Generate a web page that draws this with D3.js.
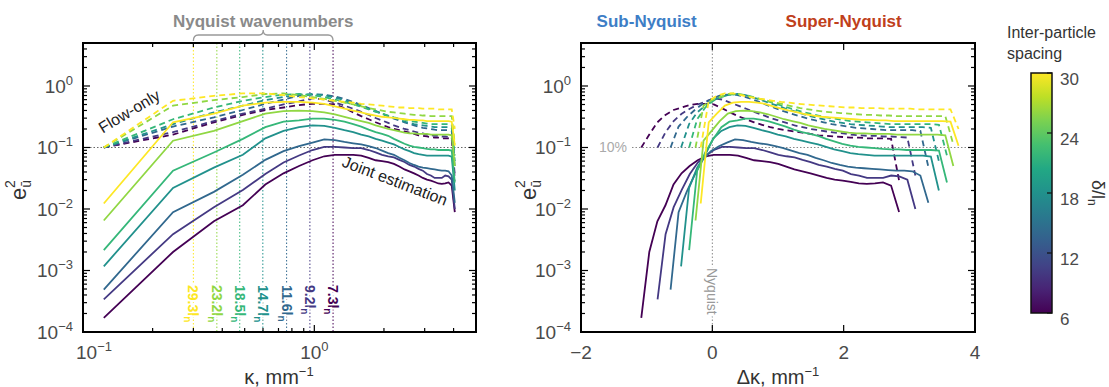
<!DOCTYPE html>
<html>
<head>
<meta charset="utf-8">
<script src="https://cdn.jsdelivr.net/npm/d3@7"></script>
<style>
body { margin: 0; background: #fff; }
text { font-family: "Liberation Sans", Arial, sans-serif; }
</style>
</head>
<body>
<svg id="chart" width="1109" height="387"></svg>
<script>
// wavenumber grid, mm^-1
const kappa = [0.123, 0.245, 0.368, 0.491, 0.614, 0.736, 0.859, 0.982, 1.104, 1.227, 1.350,
  1.473, 1.595, 1.718, 1.841, 1.963, 2.086, 2.209, 2.331, 2.454, 2.577, 2.700, 2.822,
  2.945, 3.068, 3.190, 3.313, 3.436, 3.558, 3.681, 3.804, 3.927, 4.049];

// inter-particle spacing (delta / l_n) and the matching Nyquist wavenumber
const spacing = [7.3, 9.2, 11.6, 14.7, 18.5, 23.2, 29.3];
const kNyq = [1.205, 0.957, 0.759, 0.599, 0.476, 0.379, 0.300];

// joint estimation (solid)
const joint73 = [1.7e-4, 2.0e-3, 6.3e-3, 0.0115, 0.025, 0.038, 0.050, 0.062, 0.072, 0.076, 0.076, 0.076, 0.074, 0.068, 0.062, 0.060, 0.058, 0.054, 0.049, 0.044, 0.041, 0.038, 0.035, 0.032, 0.030, 0.029, 0.0275, 0.026, 0.0257, 0.026, 0.027, 0.024, 0.0089];
const joint92 = [3.4e-4, 3.9e-3, 0.0107, 0.0204, 0.037, 0.057, 0.074, 0.091, 0.102, 0.102, 0.100, 0.098, 0.098, 0.091, 0.083, 0.076, 0.072, 0.069, 0.063, 0.058, 0.052, 0.049, 0.045, 0.042, 0.037, 0.035, 0.032, 0.032, 0.032, 0.035, 0.034, 0.030, 0.010];
const joint116 = [4.9e-4, 8.9e-3, 0.019, 0.036, 0.063, 0.087, 0.105, 0.120, 0.135, 0.132, 0.123, 0.117, 0.112, 0.105, 0.098, 0.089, 0.081, 0.076, 0.068, 0.062, 0.056, 0.052, 0.049, 0.047, 0.046, 0.045, 0.044, 0.043, 0.042, 0.042, 0.041, 0.035, 0.0126];
const joint147 = [1.17e-3, 0.022, 0.047, 0.076, 0.141, 0.186, 0.214, 0.229, 0.224, 0.209, 0.191, 0.178, 0.162, 0.151, 0.138, 0.129, 0.120, 0.112, 0.102, 0.093, 0.087, 0.081, 0.078, 0.076, 0.074, 0.074, 0.074, 0.074, 0.074, 0.074, 0.074, 0.071, 0.020];
const joint185 = [2.14e-3, 0.042, 0.083, 0.138, 0.214, 0.263, 0.275, 0.295, 0.295, 0.282, 0.263, 0.240, 0.219, 0.195, 0.178, 0.166, 0.155, 0.138, 0.126, 0.115, 0.107, 0.102, 0.100, 0.098, 0.095, 0.093, 0.093, 0.091, 0.091, 0.091, 0.091, 0.089, 0.027];
const joint232 = [6.5e-3, 0.129, 0.186, 0.269, 0.355, 0.389, 0.398, 0.389, 0.372, 0.347, 0.316, 0.288, 0.269, 0.251, 0.229, 0.214, 0.200, 0.191, 0.182, 0.174, 0.170, 0.170, 0.166, 0.166, 0.166, 0.162, 0.162, 0.162, 0.162, 0.162, 0.162, 0.158, 0.050];
const joint293 = [0.0123, 0.257, 0.355, 0.479, 0.537, 0.550, 0.550, 0.537, 0.513, 0.468, 0.427, 0.398, 0.372, 0.347, 0.331, 0.316, 0.309, 0.302, 0.295, 0.288, 0.282, 0.282, 0.275, 0.275, 0.269, 0.269, 0.269, 0.269, 0.269, 0.269, 0.269, 0.263, 0.107];

// flow-only (dashed)
const flow73 = [0.100, 0.162, 0.257, 0.339, 0.407, 0.447, 0.490, 0.513, 0.513, 0.501, 0.437, 0.372, 0.324, 0.288, 0.257, 0.234, 0.214, 0.200, 0.191, 0.182, 0.174, 0.166, 0.158, 0.155, 0.151, 0.148, 0.145, 0.145, 0.141, 0.141, 0.141, 0.138, 0.029];
const flow92 = [0.100, 0.178, 0.269, 0.355, 0.427, 0.501, 0.562, 0.631, 0.603, 0.537, 0.479, 0.427, 0.380, 0.339, 0.302, 0.275, 0.251, 0.229, 0.214, 0.200, 0.191, 0.182, 0.174, 0.170, 0.162, 0.158, 0.155, 0.155, 0.151, 0.151, 0.148, 0.145, 0.035];
const flow116 = [0.100, 0.219, 0.309, 0.407, 0.513, 0.603, 0.692, 0.724, 0.724, 0.676, 0.617, 0.550, 0.490, 0.437, 0.389, 0.355, 0.324, 0.295, 0.275, 0.257, 0.240, 0.229, 0.219, 0.209, 0.204, 0.200, 0.195, 0.191, 0.191, 0.191, 0.191, 0.186, 0.048];
const flow147 = [0.100, 0.240, 0.372, 0.479, 0.589, 0.661, 0.724, 0.741, 0.708, 0.646, 0.589, 0.525, 0.479, 0.427, 0.389, 0.355, 0.324, 0.302, 0.282, 0.263, 0.251, 0.240, 0.234, 0.229, 0.224, 0.219, 0.214, 0.214, 0.214, 0.214, 0.214, 0.209, 0.060];
const flow185 = [0.100, 0.288, 0.447, 0.575, 0.661, 0.724, 0.741, 0.708, 0.661, 0.603, 0.550, 0.501, 0.457, 0.417, 0.380, 0.355, 0.331, 0.309, 0.295, 0.282, 0.269, 0.263, 0.257, 0.251, 0.245, 0.240, 0.240, 0.240, 0.240, 0.240, 0.240, 0.234, 0.074];
const flow232 = [0.100, 0.479, 0.589, 0.661, 0.741, 0.759, 0.708, 0.661, 0.617, 0.575, 0.537, 0.501, 0.468, 0.437, 0.417, 0.398, 0.380, 0.372, 0.363, 0.355, 0.347, 0.339, 0.339, 0.331, 0.331, 0.324, 0.324, 0.324, 0.324, 0.324, 0.324, 0.324, 0.112];
const flow293 = [0.100, 0.575, 0.692, 0.759, 0.759, 0.708, 0.661, 0.631, 0.603, 0.575, 0.550, 0.537, 0.513, 0.501, 0.490, 0.479, 0.468, 0.457, 0.447, 0.447, 0.437, 0.437, 0.437, 0.427, 0.427, 0.427, 0.427, 0.417, 0.417, 0.417, 0.417, 0.417, 0.200];

const joint = [joint73, joint92, joint116, joint147, joint185, joint232, joint293];
const flow = [flow73, flow92, flow116, flow147, flow185, flow232, flow293];

const yTicks = [1e-4, 1e-3, 1e-2, 1e-1, 1];
const cbTicks = [6, 12, 18, 24, 30];

const svg = d3.select("#chart");
const y = d3.scaleLog().domain([1e-4, 5]).range([332, 43]);
const xL = d3.scaleLog().domain([0.1, 5]).range([83, 476]);
const xR = d3.scaleLinear().domain([-2, 4]).range([581, 975]);
const cb = d3.scaleLinear().domain([6, 30]).range([313, 73]);
const color = i => d3.interpolateViridis(i / 6);

const tickGrey = "#4a4a4a";

function pow10(sel, exp) {
  sel.append("tspan").text("10");
  sel.append("tspan").attr("dy", -8).attr("font-size", 13).text(exp);
}
function expOf(v) {
  const e = Math.round(Math.log10(v));
  return e < 0 ? "\u2212" + (-e) : String(e);
}

function yAxis(x0, x1) {
  const g = svg.append("g");
  y.ticks().forEach(v => {
    const major = Math.abs(Math.log10(v) - Math.round(Math.log10(v))) < 1e-6;
    const len = major ? 7 : 4;
    g.append("line").attr("x1", x0).attr("x2", x0 + len).attr("y1", y(v)).attr("y2", y(v))
      .attr("stroke", "#000").attr("stroke-width", 1.2);
    g.append("line").attr("x1", x1).attr("x2", x1 - len).attr("y1", y(v)).attr("y2", y(v))
      .attr("stroke", "#000").attr("stroke-width", 1.2);
  });
  yTicks.forEach(v => {
    const t = g.append("text").attr("x", x0 - 10).attr("y", y(v) + 7)
      .attr("text-anchor", "end").attr("font-size", 19).attr("fill", tickGrey);
    pow10(t, expOf(v));
  });
}

function frame(x0, x1) {
  svg.append("rect").attr("x", x0).attr("y", 43).attr("width", x1 - x0).attr("height", 289)
    .attr("fill", "none").attr("stroke", "#000").attr("stroke-width", 2);
}

function ylabel(x) {
  const t = svg.append("text").attr("transform", `translate(${x},200) rotate(-90)`)
    .attr("font-size", 22).attr("fill", "#333");
  t.append("tspan").text("e");
  t.append("tspan").attr("dy", 5).attr("font-size", 14).text("\u016b");
  t.append("tspan").attr("dx", -8).attr("dy", -16).attr("font-size", 14).text("2");
}

// ---------- left panel ----------
// 10% line
svg.append("line").attr("x1", 83).attr("x2", 476).attr("y1", y(0.1)).attr("y2", y(0.1))
  .attr("stroke", "#666").attr("stroke-width", 1).attr("stroke-dasharray", "1.5,2");

// Nyquist verticals and labels
kNyq.forEach((k, i) => {
  const x = xL(k);
  svg.append("line").attr("x1", x).attr("x2", x).attr("y1", 43).attr("y2", 332)
    .attr("stroke", color(i)).attr("stroke-width", 1).attr("stroke-dasharray", "1.5,2");
  const t = svg.append("text").attr("transform", `translate(${x - 5},285) rotate(90)`)
    .attr("font-size", 14).attr("font-weight", "bold").attr("fill", color(i))
    .attr("stroke", "#fff").attr("stroke-width", 4).attr("paint-order", "stroke");
  t.append("tspan").text(spacing[i] + "l");
  t.append("tspan").attr("dy", 4).attr("font-size", 10).text("n");
});

const lineL = d3.line().x((d, j) => xL(kappa[j])).y(d => y(d));
flow.forEach((s, i) => {
  svg.append("path").attr("d", lineL(s)).attr("fill", "none").attr("stroke", color(i))
    .attr("stroke-width", 1.8).attr("stroke-dasharray", "6,4");
});
joint.forEach((s, i) => {
  svg.append("path").attr("d", lineL(s)).attr("fill", "none").attr("stroke", color(i))
    .attr("stroke-width", 1.8);
});

// x ticks (log)
xL.ticks().forEach(v => {
  const major = Math.abs(Math.log10(v) - Math.round(Math.log10(v))) < 1e-6;
  const len = major ? 7 : 4;
  svg.append("line").attr("x1", xL(v)).attr("x2", xL(v)).attr("y1", 332).attr("y2", 332 - len)
    .attr("stroke", "#000").attr("stroke-width", 1.2);
  svg.append("line").attr("x1", xL(v)).attr("x2", xL(v)).attr("y1", 43).attr("y2", 43 + len)
    .attr("stroke", "#000").attr("stroke-width", 1.2);
});
[0.1, 1].forEach((v, j) => {
  const t = svg.append("text").attr("x", xL(v) + (j === 0 ? 11 : 0)).attr("y", 359)
    .attr("text-anchor", "middle").attr("font-size", 19).attr("fill", tickGrey);
  pow10(t, expOf(v));
});
yAxis(83, 476);
frame(83, 476);
ylabel(26);

const xl = svg.append("text").attr("x", 279).attr("y", 384).attr("text-anchor", "middle")
  .attr("font-size", 20).attr("fill", "#333");
xl.append("tspan").text("\u03ba, mm");
xl.append("tspan").attr("dy", -8).attr("font-size", 13).text("\u22121");

// bracket + title
const bx0 = xL(kNyq[6]), bx1 = xL(kNyq[0]), bm = (bx0 + bx1) / 2;
svg.append("path")
  .attr("d", `M${bx0},41 Q${bx0},35 ${bx0 + 5},35 L${bm - 4},35 Q${bm},35 ${bm},30 Q${bm},35 ${bm + 4},35 L${bx1 - 5},35 Q${bx1},35 ${bx1},41`)
  .attr("fill", "none").attr("stroke", "#999").attr("stroke-width", 1.3);
svg.append("text").attr("x", bm).attr("y", 27).attr("text-anchor", "middle")
  .attr("font-size", 17).attr("font-weight", "bold").attr("fill", "#8a8a8a")
  .text("Nyquist wavenumbers");

svg.append("text").attr("transform", "translate(132,116) rotate(-31)").attr("text-anchor", "middle")
  .attr("font-size", 16).attr("fill", "#222").text("Flow-only");
svg.append("text").attr("transform", "translate(393,186) rotate(21)").attr("text-anchor", "middle")
  .attr("font-size", 16).attr("fill", "#222").text("Joint estimation");

// ---------- right panel ----------
svg.append("line").attr("x1", 632).attr("x2", 975).attr("y1", y(0.1)).attr("y2", y(0.1))
  .attr("stroke", "#888").attr("stroke-width", 1).attr("stroke-dasharray", "1.5,2");
svg.append("text").attr("x", 627).attr("y", y(0.1) + 5).attr("text-anchor", "end")
  .attr("font-size", 14).attr("fill", "#aaa").text("10%");
svg.append("line").attr("x1", xR(0)).attr("x2", xR(0)).attr("y1", 43).attr("y2", 332)
  .attr("stroke", "#888").attr("stroke-width", 1).attr("stroke-dasharray", "1.5,2");
svg.append("text").attr("transform", `translate(${xR(0) - 5},268) rotate(90)`)
  .attr("font-size", 14).attr("fill", "#999")
  .attr("stroke", "#fff").attr("stroke-width", 4).attr("paint-order", "stroke").text("Nyquist");

flow.forEach((s, i) => {
  const line = d3.line().x((d, j) => xR(kappa[j] - kNyq[i])).y(d => y(d));
  svg.append("path").attr("d", line(s)).attr("fill", "none").attr("stroke", color(i))
    .attr("stroke-width", 1.8).attr("stroke-dasharray", "6,4");
});
joint.forEach((s, i) => {
  const line = d3.line().x((d, j) => xR(kappa[j] - kNyq[i])).y(d => y(d));
  svg.append("path").attr("d", line(s)).attr("fill", "none").attr("stroke", color(i))
    .attr("stroke-width", 1.8);
});

xR.ticks(3).forEach(v => {
  svg.append("line").attr("x1", xR(v)).attr("x2", xR(v)).attr("y1", 332).attr("y2", 325)
    .attr("stroke", "#000").attr("stroke-width", 1.2);
  svg.append("line").attr("x1", xR(v)).attr("x2", xR(v)).attr("y1", 43).attr("y2", 50)
    .attr("stroke", "#000").attr("stroke-width", 1.2);
  svg.append("text").attr("x", xR(v)).attr("y", 359).attr("text-anchor", "middle")
    .attr("font-size", 19).attr("fill", tickGrey).text(v < 0 ? "\u2212" + (-v) : v);
});
yAxis(581, 975);
frame(581, 975);
ylabel(536);

const xr = svg.append("text").attr("x", 778).attr("y", 384).attr("text-anchor", "middle")
  .attr("font-size", 20).attr("fill", "#333");
xr.append("tspan").text("\u0394\u03ba, mm");
xr.append("tspan").attr("dy", -8).attr("font-size", 13).text("\u22121");

svg.append("text").attr("x", xR(-1)).attr("y", 27).attr("text-anchor", "middle")
  .attr("font-size", 17).attr("font-weight", "bold").attr("fill", "#3d7ec6").text("Sub-Nyquist");
svg.append("text").attr("x", xR(2)).attr("y", 27).attr("text-anchor", "middle")
  .attr("font-size", 17).attr("font-weight", "bold").attr("fill", "#c0401b").text("Super-Nyquist");

// ---------- colour bar ----------
const grad = svg.append("defs").append("linearGradient").attr("id", "vir")
  .attr("x1", 0).attr("y1", 1).attr("x2", 0).attr("y2", 0);
d3.range(0, 1.001, 0.1).forEach(t => {
  grad.append("stop").attr("offset", t).attr("stop-color", d3.interpolateViridis(t));
});
svg.append("rect").attr("x", 1031).attr("y", cb(30)).attr("width", 21).attr("height", cb(6) - cb(30))
  .attr("fill", "url(#vir)").attr("stroke", "#111").attr("stroke-width", 1.5);
cbTicks.forEach(v => {
  svg.append("line").attr("x1", 1052).attr("x2", 1047).attr("y1", cb(v)).attr("y2", cb(v))
    .attr("stroke", "#111").attr("stroke-width", 1.2);
  svg.append("text").attr("x", 1060).attr("y", cb(v) + 12).attr("font-size", 17)
    .attr("fill", tickGrey).text(v);
});
svg.append("text").attr("x", 1007).attr("y", 38).attr("font-size", 16).attr("fill", "#333").text("Inter-particle");
svg.append("text").attr("x", 1007).attr("y", 59).attr("font-size", 16).attr("fill", "#333").text("spacing");
const cl = svg.append("text").attr("transform", "translate(1092,180) rotate(90)")
  .attr("font-size", 18).attr("fill", "#333");
cl.append("tspan").text("\u03b4/l");
cl.append("tspan").attr("dy", 4).attr("font-size", 12).text("n");
</script>
</body>
</html>
